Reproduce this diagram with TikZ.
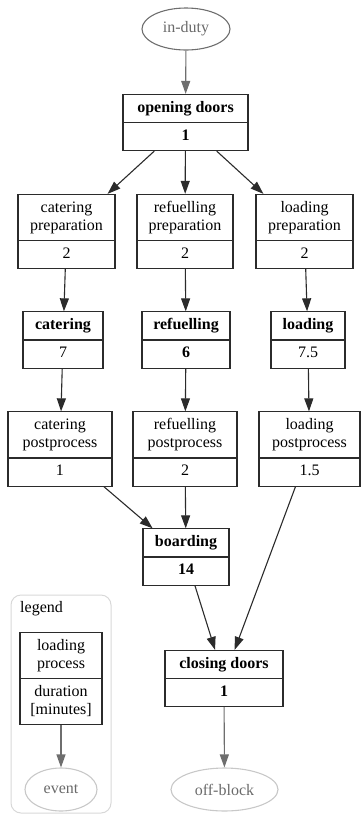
\documentclass[tikz,border=0pt]{standalone}
\usepackage{fontspec}
\setmainfont{Liberation Serif}
\usetikzlibrary{shapes.multipart,shapes.geometric,arrows.meta}

\definecolor{boxline}{HTML}{2B2B2B}
\definecolor{evline}{HTML}{C8C8C8}
\definecolor{evtext}{HTML}{6A6A6A}
\definecolor{evedge}{HTML}{6E6E6E}
\definecolor{legline}{HTML}{D8D8D8}

\newcommand{\celltxt}[1]{\begin{tabular}{@{}c@{}}#1\end{tabular}}

\begin{document}
\begin{tikzpicture}[x=1pt,y=-1pt,
    font=\fontsize{16}{18}\selectfont,
    proc/.style={draw=boxline, line width=1.1pt, rectangle split, rectangle split parts=2,
                 inner xsep=2pt, inner ysep=4.5pt},
    event/.style={ellipse, draw=evline, line width=1.1pt, text=evtext, inner sep=0pt},
    flow/.style={-{Triangle[length=13pt,width=9pt]}, line width=1.1pt, boxline},
    evflow/.style={flow, evedge}]

    % 0. Khung hinh (kich thuoc theo anh goc)
    \useasboundingbox (0,0) rectangle (361,815);

    % 1. Khung chu giai (legend)
    \draw[legline, line width=1pt, rounded corners=10pt] (11,595) rectangle (111,813);
    \node[anchor=base west, inner sep=0pt] (legtitle) at (20,612) {legend};
    \node[proc, minimum width=82] (legproc) at (61,678.5)
        {\celltxt{loading\\process}\nodepart{two}\celltxt{duration\\{[minutes]}}};
    \node[event, minimum width=72, minimum height=43] (legev) at (61,789.5) {event};

    % 2. Su kien bat dau va ket thuc
    \node[event, draw=evedge, minimum width=88, minimum height=42] (induty) at (186,29) {in-duty};
    \node[event, minimum width=107, minimum height=43] (offblock) at (224.5,789.5) {off-block};

    % 3. Cac buoc xu ly
    \node[proc, minimum width=125] (open) at (185.5,122.5)
        {\celltxt{\textbf{opening doors}}\nodepart{two}\celltxt{\textbf{1}}};
    \node[proc, minimum width=97] (cprep) at (66.5,231.5)
        {\celltxt{catering\\preparation}\nodepart{two}\celltxt{2}};
    \node[proc, minimum width=96] (rprep) at (185,231.5)
        {\celltxt{refuelling\\preparation}\nodepart{two}\celltxt{2}};
    \node[proc, minimum width=97] (lprep) at (304.5,231.5)
        {\celltxt{loading\\preparation}\nodepart{two}\celltxt{2}};
    \node[proc, minimum width=80] (cat) at (63,340)
        {\celltxt{\textbf{catering}}\nodepart{two}\celltxt{7}};
    \node[proc, minimum width=88] (ref) at (186,340)
        {\celltxt{\textbf{refuelling}}\nodepart{two}\celltxt{\textbf{6}}};
    \node[proc, minimum width=74] (load) at (308,340)
        {\celltxt{\textbf{loading}}\nodepart{two}\celltxt{7.5}};
    \node[proc, minimum width=104] (cpost) at (60,449)
        {\celltxt{catering\\postprocess}\nodepart{two}\celltxt{1}};
    \node[proc, minimum width=104] (rpost) at (185,449)
        {\celltxt{refuelling\\postprocess}\nodepart{two}\celltxt{2}};
    \node[proc, minimum width=101] (lpost) at (309.5,449)
        {\celltxt{loading\\postprocess}\nodepart{two}\celltxt{1.5}};
    \node[proc, minimum width=86] (board) at (186,557)
        {\celltxt{\textbf{boarding}}\nodepart{two}\celltxt{\textbf{14}}};
    \node[proc, minimum width=118] (close) at (224,678.5)
        {\celltxt{\textbf{closing doors}}\nodepart{two}\celltxt{\textbf{1}}};

    % 4. Cac mui ten noi cac buoc
    \draw[evflow] (induty) -- (open);
    \draw[flow] (open) -- (cprep);
    \draw[flow] (open) -- (rprep);
    \draw[flow] (open) -- (lprep);
    \draw[flow] (cprep) -- (cat);
    \draw[flow] (rprep) -- (ref);
    \draw[flow] (lprep) -- (load);
    \draw[flow] (cat) -- (cpost);
    \draw[flow] (ref) -- (rpost);
    \draw[flow] (load) -- (lpost);
    \draw[flow] (cpost) -- (board);
    \draw[flow] (rpost) -- (board);
    \draw[flow] (lpost) -- (close);
    \draw[flow] (board) -- (close);
    \draw[evflow] (close) -- (offblock);
    \draw[evflow] (legproc) -- (legev);

\end{tikzpicture}
\end{document}
